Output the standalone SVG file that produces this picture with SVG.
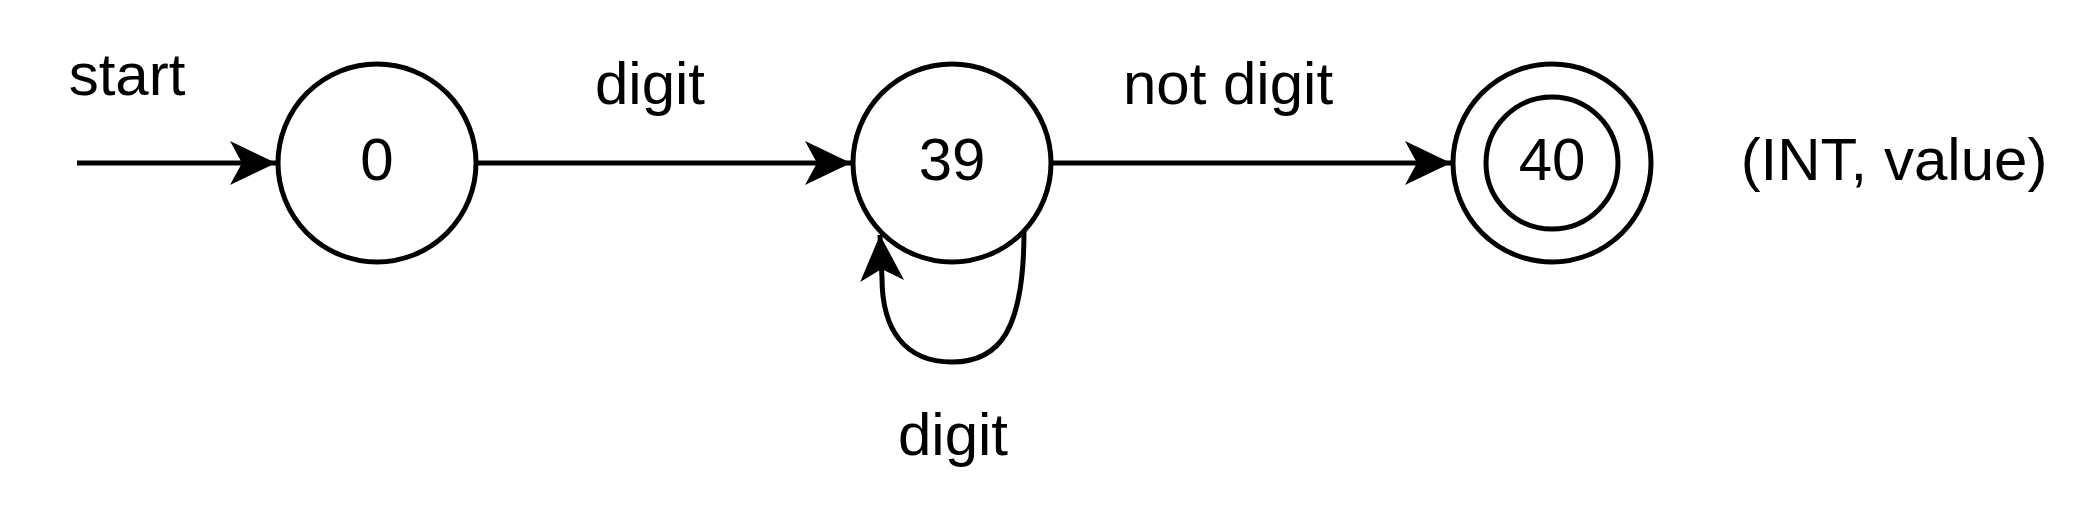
<svg xmlns="http://www.w3.org/2000/svg" width="2090" height="510" viewBox="0 0 2090 510">
<style>
.s{fill:#fff;stroke:#000;stroke-width:5}
.c{fill:none;stroke:#000;stroke-width:5}
text{font-family:"Liberation Sans",Arial,sans-serif;font-size:60px;fill:#000;text-anchor:middle}
</style>
<defs>
<marker id="a" markerUnits="userSpaceOnUse" markerWidth="60" markerHeight="60" viewBox="-50 -30 60 60" refX="0" refY="0" orient="auto">
<path d="M0 0 L-46 -22 L-34 0 L-46 22 Z" fill="#000"/>
</marker>
</defs>
<g id="connectors">
<path class="c" d="M77 163 L276 163" marker-end="url(#a)"/>
<path class="c" d="M478 163 L851 163" marker-end="url(#a)"/>
<path class="c" d="M1053 163 L1451 163" marker-end="url(#a)"/>
<path class="c" d="M1024 231 C1024 330 1000 362 952 362 C905 362 882 330 882 278 L880 235" marker-end="url(#a)"/>
<text x="127" y="95">start</text>
<text x="650" y="104">digit</text>
<text x="1228" y="104">not digit</text>
<text x="953" y="455">digit</text>
</g>
<g id="node0">
<circle class="s" cx="377" cy="163" r="99"/>
<text x="377" y="180">0</text>
</g>
<g id="node39">
<circle class="s" cx="952" cy="163" r="99"/>
<text x="952" y="180">39</text>
</g>
<g id="node40">
<circle class="s" cx="1552" cy="163" r="99"/>
<circle class="s" cx="1552" cy="163" r="66"/>
<text x="1552" y="180">40</text>
</g>
<g id="label">
<text x="1894" y="180">(INT, value)</text>
</g>
</svg>
